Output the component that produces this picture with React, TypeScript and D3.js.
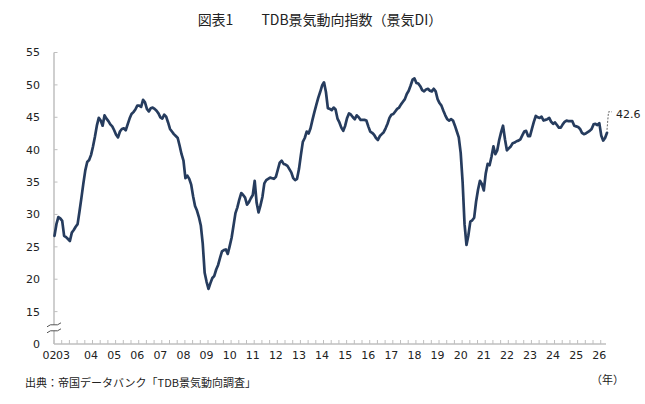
import React from "react";
import * as d3 from "d3";

// TDB景気DI, monthly, May 2002 onward
const diValues: number[] = [
  26.7, 28.5, 29.6, 29.4, 29.0, 26.7, 26.5, 26.2, 25.9, 27.2, 27.6, 28.1,
  28.5, 30.5, 32.6, 34.8, 36.8, 38.1, 38.4, 39.2, 40.5, 42.0, 43.7, 44.9,
  44.5, 43.7, 45.3, 44.8, 44.4, 43.9, 43.6, 43.0, 42.3, 41.9, 42.8, 43.2,
  43.3, 43.0, 43.9, 44.8, 45.5, 45.8, 46.2, 46.8, 46.8, 46.6, 47.7, 47.3,
  46.3, 45.9, 46.4, 46.5, 46.3, 46.0, 45.6, 45.0, 44.8, 45.4, 45.1, 44.2,
  43.2, 42.8, 42.4, 42.1, 41.8, 40.6, 39.3, 38.3, 35.6, 36.0, 35.5, 34.6,
  32.8, 31.3, 30.6, 29.6, 28.3, 25.5, 21.0, 19.6, 18.5, 19.4, 20.2, 20.5,
  21.5, 22.2, 23.3, 24.3, 24.5, 24.6, 23.9, 25.1, 26.4, 28.3, 30.2, 31.1,
  32.3, 33.3, 33.0, 32.6, 31.5, 31.9, 32.5, 33.0, 35.2, 31.8, 30.3, 31.4,
  32.7, 34.8, 35.3, 35.5, 35.7, 35.6, 35.5, 35.8, 36.9, 38.0, 38.3, 37.8,
  37.7, 37.5, 37.0, 36.5, 35.6, 35.3, 35.5, 37.0, 39.2, 41.2, 41.8, 42.8,
  42.5, 43.3, 44.6, 45.8, 46.9, 48.0, 48.9, 49.9, 50.4, 48.9, 46.4, 46.3,
  46.1, 46.5, 46.2, 44.8, 44.2, 43.4, 42.9, 43.7, 44.9, 45.6, 45.4, 45.0,
  44.7, 45.3, 45.0, 44.6, 44.6, 44.6, 44.5, 43.6, 42.8, 42.6, 42.3, 41.8,
  41.5, 42.1, 42.4, 42.7, 43.3, 44.0, 44.9, 45.4, 45.5, 45.9, 46.3, 46.5,
  47.0, 47.4, 47.8, 48.6, 49.1, 49.9, 50.8, 51.0, 50.3, 50.2, 49.8, 49.2,
  49.0, 49.3, 49.4, 49.1, 49.0, 49.4, 49.0, 47.8, 47.2, 46.8, 46.0, 45.3,
  44.7, 44.5, 44.7, 44.5, 43.7, 42.8, 41.9, 39.5, 35.0, 28.5, 25.3, 26.8,
  28.9, 29.1, 29.5, 32.0, 33.8, 35.2, 34.7, 33.7, 36.3, 37.8, 37.6, 38.9,
  40.5, 39.3, 39.9, 41.5, 42.7, 43.7, 41.6, 39.9, 40.2, 40.5, 41.0, 41.1,
  41.3, 41.4, 41.6, 42.2, 42.8, 42.9, 42.1, 42.1, 43.2, 44.3, 45.2, 45.0,
  44.9, 45.1, 44.5, 44.6, 44.7, 44.9, 44.3, 44.0, 44.2, 43.8, 43.4, 43.4,
  43.9, 44.3, 44.5, 44.4, 44.4, 44.4, 43.7, 43.6, 43.5, 43.2, 42.6, 42.4,
  42.5, 42.7, 42.9, 43.2, 43.9, 44.0, 43.8, 44.1, 42.2, 41.4, 41.8, 42.6,
];

// y ticks: the bottom one (10 on the scale) is shown as 0 because of the axis break
const yTickValues = [10, 15, 20, 25, 30, 35, 40, 45, 50, 55];
const yTickLabels = ["0", "15", "20", "25", "30", "35", "40", "45", "50", "55"];

const yearLabels = [
  "02", "03", "04", "05", "06", "07", "08", "09", "10", "11", "12", "13", "14",
  "15", "16", "17", "18", "19", "20", "21", "22", "23", "24", "25", "26",
];

const title = "図表1\u3000\u3000TDB景気動向指数（景気DI）";
const source = "出典：帝国データバンク「TDB景気動向調査」";

const W = 645;
const H = 404;
const LINE = "#263c5e";
const AXIS = "#bfbfbf";
const NUM_FONT = "'DejaVu Sans', Verdana, sans-serif";
const JP_FONT = "'Noto Sans CJK JP', sans-serif";

const App: React.FC = () => {
  const n = diValues.length;
  const x = d3.scaleLinear().domain([0, n - 1]).range([54.5, 607]);
  const y = d3.scaleLinear().domain([10, 55]).range([344, 52.5]);

  const axisLeft = 54;
  const axisRight = 606;
  const axisBottom = y(10);

  const line = d3
    .line<number>()
    .x((_, i) => x(i))
    .y((d) => y(d));

  // month index of each January (data starts May 2002)
  const janIndex = (yy: number) => (yy - 2003) * 12 + 8;

  const xTicks = d3.range(0, n + 1, 4).filter((i) => x(i) <= axisRight);

  const lastI = n - 1;
  const lastV = diValues[lastI];
  const lx = x(lastI);
  const ly = y(lastV);

  // axis break position between 15 and 0
  const brk = (y(15) + y(10)) / 2;

  return (
    <svg
      width={W}
      height={H}
      style={{ position: "absolute", left: 0, top: 0, background: "#fff" }}
    >
      <rect width={W} height={H} fill="#fff" />

      <text
        x={320}
        y={25}
        textAnchor="middle"
        fontFamily={JP_FONT}
        fontSize={14}
        fill="#222"
      >
        {title}
      </text>

      {/* y axis */}
      <line x1={axisLeft} x2={axisLeft} y1={y(55)} y2={axisBottom} stroke={AXIS} strokeWidth={1.5} />
      {yTickValues.map((v, k) => (
        <g key={v}>
          {v > 10 && (
            <line x1={axisLeft} x2={axisLeft + 3.5} y1={y(v)} y2={y(v)} stroke={AXIS} strokeWidth={1} />
          )}
          <text
            x={40}
            y={y(v)}
            dy="0.36em"
            textAnchor="end"
            fontFamily={NUM_FONT}
            fontSize={11}
            fill="#222"
          >
            {yTickLabels[k]}
          </text>
        </g>
      ))}

      {/* axis break */}
      <path
        d={`M${axisLeft - 7},${brk - 1} L${axisLeft + 7},${brk - 5} L${axisLeft + 7},${brk + 1} L${axisLeft - 7},${brk + 5} Z`}
        fill="#fff"
      />
      <path
        d={`M${axisLeft - 7},${brk - 1} q3.5,-3 7,-2 t7,-2`}
        fill="none"
        stroke="#555"
        strokeWidth={1}
      />
      <path
        d={`M${axisLeft - 7},${brk + 5} q3.5,-3 7,-2 t7,-2`}
        fill="none"
        stroke="#555"
        strokeWidth={1}
      />

      {/* x axis */}
      <line x1={axisLeft} x2={axisRight} y1={axisBottom} y2={axisBottom} stroke={AXIS} strokeWidth={1.5} />
      {xTicks.map((i) => (
        <line
          key={i}
          x1={x(i) - 0.5}
          x2={x(i) - 0.5}
          y1={axisBottom}
          y2={axisBottom - 4}
          stroke={AXIS}
          strokeWidth={1}
        />
      ))}
      {yearLabels.map((lab) => {
        const yy = 2000 + Number(lab);
        let px: number;
        let anchor: "middle" | "end" = "middle";
        if (yy === 2002) {
          px = x(janIndex(2003)) - 13.5;
          anchor = "end";
        } else if (yy === 2003) {
          px = x(janIndex(2003));
          anchor = "end";
        } else {
          px = x(janIndex(yy) - 1);
        }
        return (
          <text
            key={lab}
            x={px}
            y={359}
            textAnchor={anchor}
            fontFamily={NUM_FONT}
            fontSize={11}
            fill="#222"
          >
            {lab}
          </text>
        );
      })}
      <text x={591} y={384} fontFamily={JP_FONT} fontSize={11} fill="#222">
        （年）
      </text>

      {/* series */}
      <path
        d={line(diValues) || ""}
        fill="none"
        stroke={LINE}
        strokeWidth={2.7}
        strokeLinejoin="round"
        strokeLinecap="round"
      />

      {/* latest value callout */}
      <path
        d={`M${lx},${ly - 3} L${lx + 1.5},${ly - 21} L${lx + 5},${ly - 21}`}
        fill="none"
        stroke="#666"
        strokeWidth={1}
        strokeDasharray="2,1.5"
      />
      <text x={lx + 9} y={ly - 15} fontFamily={NUM_FONT} fontSize={11} fill="#222">
        {lastV.toFixed(1)}
      </text>

      <text x={25} y={387} fontFamily={JP_FONT} fontSize={11} fill="#222">
        {source}
      </text>
    </svg>
  );
};

export default App;
